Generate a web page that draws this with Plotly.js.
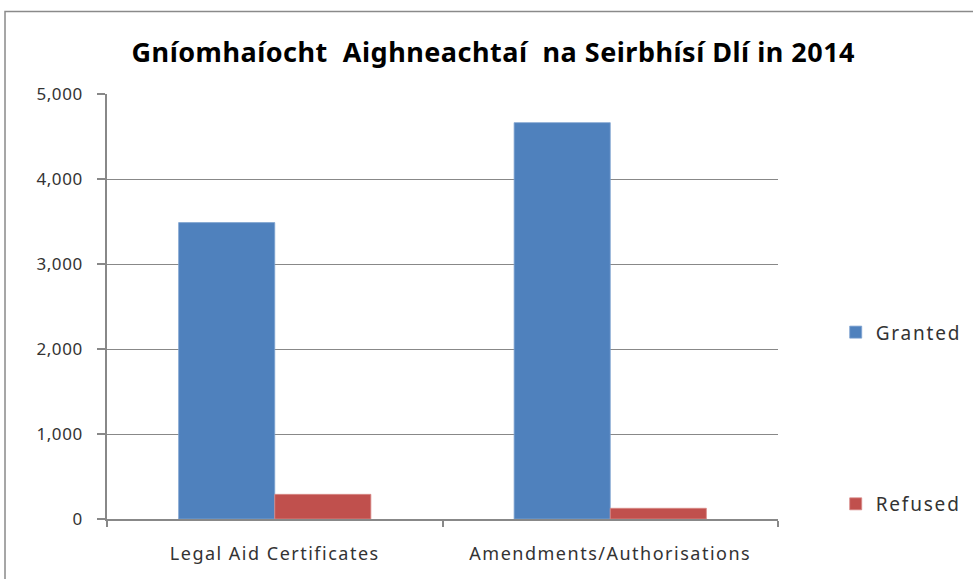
<!DOCTYPE html>
<html>
<head>
<meta charset="utf-8">
<script src="https://cdn.plot.ly/plotly-3.0.1.min.js"></script>
<style>
html,body{margin:0;padding:0;background:#fff;}
#chart{width:973px;height:579px;}
#chart .gtitle{letter-spacing:0.5px;}
#chart .xtick text{letter-spacing:1.5px;}
#chart .ytick text{letter-spacing:0.6px;}
#chart .legendtext{letter-spacing:1.8px;}
#chart .legend .scrollbox{clip-path:none !important;}
</style>
</head>
<body>
<div id="chart"></div>
<script>
var categories = ["Legal Aid Certificates", "Amendments/Authorisations"];
var granted = [3487, 4663];
var refused = [290, 126];
var seriesNames = ["Granted", "Refused"];
var yTicks = [0, 1000, 2000, 3000, 4000, 5000];
var yTickLabels = ["0", "1,000", "2,000", "3,000", "4,000", "5,000"];
var titleText = "Gníomhaíocht&nbsp; Aighneachtaí&nbsp; na Seirbhísí Dlí in 2014";

var fontFam = "Noto Sans, Open Sans, sans-serif";
var data = [
  {type: "bar", name: seriesNames[0], x: categories, y: granted, legendgroup: "g1",
   marker: {color: "#4f81bd", line: {color: "#7fa3d1", width: 0.8}}, hoverinfo: "x+y+name"},
  {type: "bar", name: seriesNames[1], x: categories, y: refused, legendgroup: "g2",
   marker: {color: "#c0504d", line: {color: "#d88a88", width: 0.8}}, hoverinfo: "x+y+name"}
];
var layout = {
  width: 973, height: 579,
  margin: {l: 107, r: 195, t: 94, b: 60},
  paper_bgcolor: "#ffffff", plot_bgcolor: "#ffffff",
  barmode: "group", bargap: 0.427, bargroupgap: 0,
  font: {family: fontFam, color: "#333333", size: 15},
  title: {text: titleText, font: {family: fontFam, size: 27, color: "#000000", weight: "bold"},
          x: 0.507, xanchor: "center", y: 0.91, yanchor: "middle"},
  xaxis: {type: "category", showgrid: false, showline: true, linecolor: "#888888", linewidth: 1.5,
          ticks: "outside", tickson: "boundaries", ticklen: 6, tickcolor: "#888888", tickwidth: 1.5,
          ticklabelstandoff: 18, tickfont: {family: fontFam, size: 18, color: "#333333"}, fixedrange: true},
  yaxis: {range: [0, 5000], tickvals: yTicks, ticktext: yTickLabels, showgrid: true,
          gridcolor: "#888888", gridwidth: 1.3, zeroline: false, showline: true, linecolor: "#888888",
          linewidth: 1.5, ticks: "outside", ticklen: 8, tickcolor: "#888888", tickwidth: 1.5,
          ticklabelstandoff: 11, tickfont: {family: fontFam, size: 17, color: "#333333"}, fixedrange: true},
  legend: {x: 1.086, xanchor: "left", y: 0.237, yanchor: "middle", tracegroupgap: 144,
           font: {family: fontFam, size: 19, color: "#333333"}, bgcolor: "rgba(0,0,0,0)",
           itemwidth: 30},
  showlegend: true,
  shapes: [{type: "rect", xref: "paper", yref: "paper", x0: -0.152, x1: 1.5, y0: -0.4, y1: 1.194,
            line: {color: "#8a8a8a", width: 1.5}, fillcolor: "rgba(0,0,0,0)", layer: "below"}]
};
Plotly.newPlot("chart", data, layout, {displayModeBar: false, staticPlot: false});
</script>
</body>
</html>
